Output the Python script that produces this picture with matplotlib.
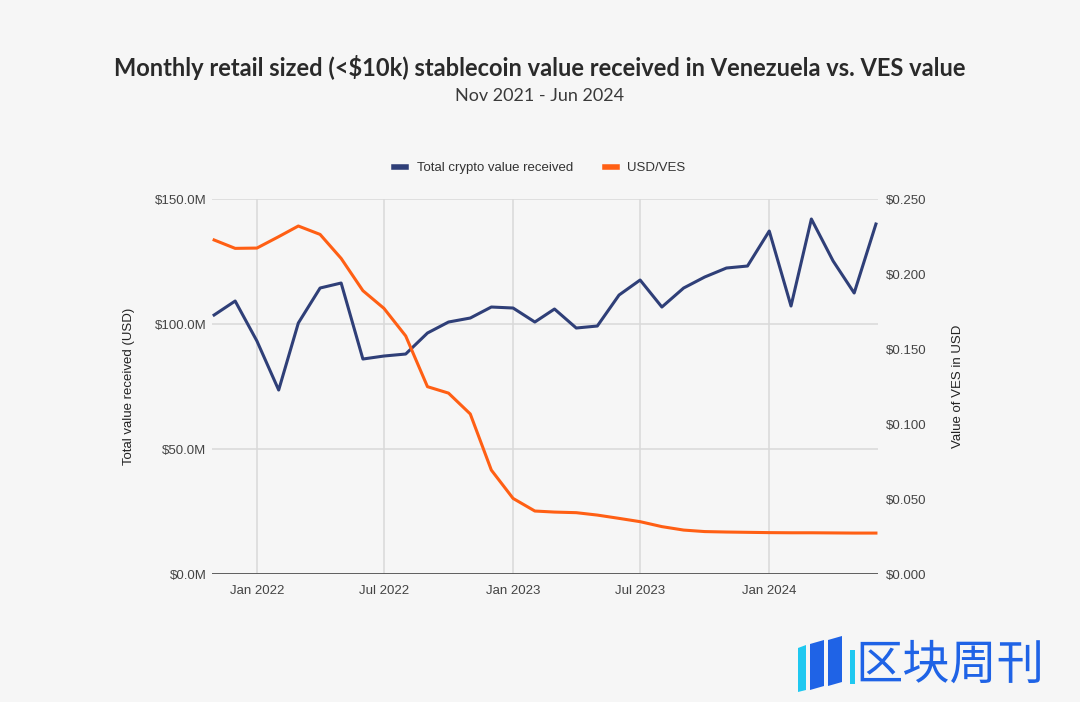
import numpy as np
import pandas as pd
import matplotlib
matplotlib.use("Agg")
import matplotlib.pyplot as plt
import matplotlib.dates as mdates
from matplotlib.patches import Polygon
from matplotlib.ticker import FuncFormatter, MultipleLocator

# ── Data ──────────────────────────────────────────────────────────────────────
months = pd.date_range("2021-11-01", "2024-06-01", freq="MS")
crypto_value_m = [
    103.6, 109.2, 93.2, 73.6, 100.4, 114.4, 116.4, 86.0, 87.2, 88.0,
    96.4, 100.8, 102.4, 106.8, 106.4, 100.8, 106.0, 98.4, 99.2, 111.6,
    117.6, 106.8, 114.4, 118.8, 122.4, 123.2, 137.2, 107.2, 142.0, 125.2,
    112.4, 140.0,
]
usd_ves = [
    0.2227, 0.2171, 0.2173, 0.2249, 0.2320, 0.2264, 0.2104, 0.1889, 0.1771, 0.1587,
    0.1249, 0.1206, 0.1067, 0.0693, 0.0504, 0.0420, 0.0413, 0.0409, 0.0393, 0.0371,
    0.0349, 0.0316, 0.0293, 0.0283, 0.0280, 0.0278, 0.0276, 0.0275, 0.0275, 0.0274,
    0.0273, 0.0273,
]
x_ticks = ["2022-01-01", "2022-07-01", "2023-01-01", "2023-07-01", "2024-01-01"]

bg = "#f6f6f6"
color_crypto = "#2f3f78"
color_ves = "#ff5f14"
text_col = "#444444"
tick_font = "Liberation Sans"

fig = plt.figure(figsize=(10.8, 7.02), dpi=100, facecolor=bg)
ax1 = fig.add_axes([0.1963, 0.1823, 0.6167, 0.5342], facecolor=bg)
ax2 = ax1.twinx()

# ── Lines ─────────────────────────────────────────────────────────────────────
l1, = ax1.plot(months, crypto_value_m, color=color_crypto, lw=2.2,
               label="Total crypto value received", zorder=3)
l2, = ax2.plot(months, usd_ves, color=color_ves, lw=2.2,
               label="USD/VES", zorder=3)

# ── Axes styling ──────────────────────────────────────────────────────────────
pad = pd.Timedelta(days=3)
ax1.set_xlim(months[0] - pad, months[-1] + pad)
ax1.set_ylim(0, 150)
ax2.set_ylim(0, 0.25)
ax1.yaxis.set_major_locator(MultipleLocator(50))
ax2.yaxis.set_major_locator(MultipleLocator(0.05))
ax1.yaxis.set_major_formatter(FuncFormatter(lambda v, _: f"${v:.1f}M"))
ax2.yaxis.set_major_formatter(FuncFormatter(lambda v, _: f"${v:.3f}"))

ax1.set_xticks(pd.to_datetime(x_ticks))
ax1.xaxis.set_major_formatter(mdates.DateFormatter("%b %Y"))

ax1.grid(True, axis="both", color="#d9d9d9", lw=1.1, zorder=0)
ax1.set_axisbelow(True)

for ax in (ax1, ax2):
    for side in ("top", "left", "right", "bottom"):
        ax.spines[side].set_visible(False)
    ax.tick_params(length=0, labelsize=9.5, labelcolor=text_col)
    for lab in ax.get_yticklabels() + ax.get_xticklabels():
        lab.set_fontfamily(tick_font)
ax1.axhline(0, color="#555555", lw=1.3, zorder=2)
ax1.tick_params(axis="y", pad=4)
ax1.tick_params(axis="x", pad=8)
ax2.tick_params(axis="y", pad=6)

ax1.set_ylabel("Total value received (USD)", fontsize=9.5, color="#222222",
               family=tick_font, labelpad=14)
ax2.set_ylabel("Value of VES in USD", fontsize=9.5, color="#222222",
               family=tick_font, labelpad=18)

# ── Legend ────────────────────────────────────────────────────────────────────
fig.legend([l1, l2], [l1.get_label(), l2.get_label()], loc="center",
           bbox_to_anchor=(0.5, 0.760), ncol=2, frameon=False,
           prop={"family": tick_font, "size": 9.5}, handlelength=0.9,
           handleheight=0.6, columnspacing=2.4, labelcolor="#333333")
for h in fig.legends[0].legend_handles:
    h.set_linewidth(4)

# ── Titles ────────────────────────────────────────────────────────────────────
fig.text(0.5, 0.904, "Monthly retail sized (<$10k) stablecoin value received in Venezuela vs. VES value",
         ha="center", va="center", fontsize=17, fontweight="bold",
         family="Lato", color="#2a2a2a")
fig.text(0.5, 0.863, "Nov 2021 - Jun 2024", ha="center", va="center",
         fontsize=13, family="Lato", color="#3a3a3a")

# ── Watermark (logo + text) ───────────────────────────────────────────────────
def px(x, y):
    return (x / 1080, 1 - y / 702)

logo = [
    ([(798, 648), (806, 645), (806, 690), (798, 692)], "#1fc8f0"),
    ([(810, 644), (824, 640), (824, 686), (810, 690)], "#1f63e6"),
    ([(828, 640), (842, 636), (842, 682), (828, 686)], "#1f63e6"),
    ([(850, 650), (855, 650), (855, 684), (850, 684)], "#1fc8f0"),
]
for pts, col in logo:
    fig.patches.append(Polygon([px(*p) for p in pts], closed=True,
                               transform=fig.transFigure, facecolor=col,
                               edgecolor="none"))
fig.text(0.792, 0.052, "区块周刊", ha="left", va="center", fontsize=34,
         family=["Noto Sans CJK SC", "DejaVu Sans"], color="#1f63e6")

fig.savefig("out.png", dpi=100, facecolor=bg)
